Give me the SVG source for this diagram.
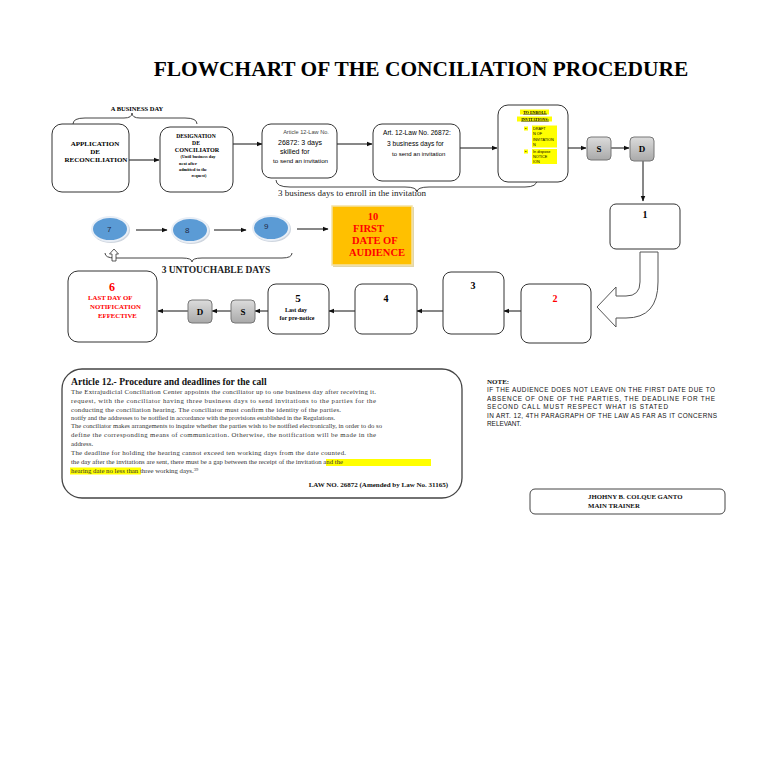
<svg xmlns="http://www.w3.org/2000/svg" width="768" height="762" viewBox="0 0 768 762">
<style>
.box{fill:#fff;stroke:#333;stroke-width:1}
.ser{font-family:"Liberation Serif","Times New Roman",serif}
.san{font-family:"Liberation Sans",Arial,sans-serif}
.b{font-weight:bold}
.red{fill:#FF0000}
.con{stroke:#111;stroke-width:1;fill:none;marker-end:url(#ah)}
.brace{stroke:#444;stroke-width:1;fill:none}
.btn{fill:url(#gg);stroke:#777;stroke-width:1}
.circ{fill:#5B9BD5;stroke:#e8eef6;stroke-width:2}
.body{font-family:"Liberation Serif","Times New Roman",serif;font-size:6.8px;fill:#333}
.note{font-family:"Liberation Sans",Arial,sans-serif;font-size:6.4px;fill:#111}
.hl{fill:#FFFF00}
</style>
<defs>
<marker id="ah" viewBox="0 0 10 10" refX="9" refY="5" markerWidth="6" markerHeight="6" orient="auto" markerUnits="userSpaceOnUse">
<path d="M0,1 L10,5 L0,9 Z" fill="#111"/>
</marker>
<linearGradient id="gg" x1="0" y1="0" x2="0" y2="1">
<stop offset="0" stop-color="#dcdcdc"/>
<stop offset="1" stop-color="#a9a9a9"/>
</linearGradient>
</defs>
<rect width="768" height="762" fill="#fff"/>
<text class="ser b" x="421" y="76" font-size="21.4" text-anchor="middle" fill="#000">FLOWCHART OF THE CONCILIATION PROCEDURE</text>

<!-- braces and annotations -->
<g id="annotations">
<path class="brace" d="M73,124 Q73,118 85,118 L124,118 Q132,118 132,113 Q132,118 140,118 L185,118 Q197,118 197,124"/>
<text class="ser b" x="137" y="111" font-size="6.5" text-anchor="middle">A BUSINESS DAY</text>
<path class="brace" d="M276,180 Q276,187 290,187 L405,187 Q417,187 417,192 Q417,187 429,187 L525,187 Q537,187 537,180"/>
<text class="ser" x="278" y="196" font-size="8" textLength="148" lengthAdjust="spacingAndGlyphs" fill="#222">3 business days to enroll in the invitation</text>
<path class="brace" d="M105,253 Q105,258 115,258 L182,258 Q192,258 192,262 Q192,258 202,258 L282,258 Q292,258 292,253"/>
<polygon points="114,249 118.5,254 116,254 116,261 112,261 112,254 109.5,254" fill="#fff" stroke="#333" stroke-width="0.8"/>
<text class="ser b" x="216" y="273" font-size="9.5" text-anchor="middle" fill="#222">3 UNTOUCHABLE DAYS</text>
</g>

<!-- connectors -->
<g id="connectors">
<line class="con" x1="129" y1="160" x2="159" y2="160"/>
<line class="con" x1="233" y1="144" x2="262" y2="144"/>
<line class="con" x1="337" y1="144" x2="372" y2="144"/>
<line class="con" x1="460" y1="148" x2="497" y2="148"/>
<line class="con" x1="568" y1="148" x2="586" y2="148"/>
<line class="con" x1="611" y1="148" x2="629" y2="148"/>
<line class="con" x1="643" y1="161" x2="643" y2="201"/>
<path d="M640,252 L640,282 Q640,296 626,296 L616,296 L616,287 L597,307 L616,327 L616,318 L626,318 Q658,318 658,282 L658,252 Z" fill="#fff" stroke="#555" stroke-width="1"/>
<line class="con" x1="521" y1="311" x2="504" y2="311"/>
<line class="con" x1="443" y1="311" x2="417" y2="311"/>
<line class="con" x1="355" y1="311" x2="329" y2="311"/>
<line class="con" x1="268" y1="311" x2="255" y2="311"/>
<line class="con" x1="231" y1="311" x2="212" y2="311"/>
<line class="con" x1="188" y1="311" x2="158" y2="311"/>
<line class="con" x1="136" y1="230" x2="167" y2="230"/>
<line class="con" x1="214" y1="230" x2="246" y2="230"/>
<line class="con" x1="297" y1="229" x2="328" y2="229"/>
</g>

<g id="n-application">
<rect class="box" x="52" y="124" width="77" height="68" rx="10"/>
<text class="ser b" x="95" y="146" font-size="7" text-anchor="middle">APPLICATION</text>
<text class="ser b" x="95" y="154" font-size="7" text-anchor="middle">DE</text>
<text class="ser b" x="96" y="162" font-size="7" text-anchor="middle">RECONCILIATION</text>
</g>

<g id="n-designation">
<rect class="box" x="160" y="127" width="73" height="65" rx="10"/>
<text class="ser b" x="196" y="138" font-size="5.6" text-anchor="middle">DESIGNATION</text>
<text class="ser b" x="196" y="145" font-size="5.6" text-anchor="middle">DE</text>
<text class="ser b" x="197" y="152" font-size="6.2" text-anchor="middle">CONCILIATOR</text>
<text class="ser b" x="198" y="158" font-size="4.3" text-anchor="middle">(Until business day</text>
<text class="ser b" x="188" y="164.5" font-size="4.3" text-anchor="middle">next after</text>
<text class="ser b" x="193" y="170.5" font-size="4.3" text-anchor="middle">admitted to the</text>
<text class="ser b" x="199" y="176.5" font-size="4.3" text-anchor="middle">request)</text>
</g>

<g id="n-article12a">
<rect class="box" x="262" y="124" width="75" height="54" rx="9"/>
<text class="san" x="306" y="134" font-size="5.6" text-anchor="middle" fill="#444">Article 12-Law No.</text>
<text class="san" x="278" y="145" font-size="7">26872: 3 days</text>
<text class="san" x="280" y="154" font-size="7">skilled for</text>
<text class="san" x="273" y="163" font-size="6.2">to send an invitation</text>
</g>

<g id="n-article12b">
<rect class="box" x="373" y="124" width="87" height="57" rx="9"/>
<text class="san" x="383" y="135" font-size="6.6">Art. 12-Law No. 26872:</text>
<text class="san" x="387" y="146" font-size="6.6">3 business days for</text>
<text class="san" x="392" y="156" font-size="6">to send an invitation</text>
</g>

<g id="n-enroll">
<rect class="box" x="498" y="105" width="70" height="77" rx="10"/>
<rect class="hl" x="520" y="109.5" width="29" height="5"/>
<rect class="hl" x="517" y="116.5" width="35" height="5"/>
<text class="ser b" x="535" y="113.5" font-size="4" text-anchor="middle" text-decoration="underline">TO ENROLL</text>
<text class="ser b" x="535" y="120.5" font-size="4" text-anchor="middle" text-decoration="underline">INVITATIONS:</text>
<rect class="hl" x="532" y="125.5" width="25" height="22"/>
<rect class="hl" x="524" y="126.5" width="4" height="4"/>
<text class="san" x="525" y="130" font-size="4">•</text>
<text class="san" x="533" y="129.5" font-size="3.8">DRAFT</text>
<text class="san" x="533" y="135" font-size="3.8">N OF</text>
<text class="san" x="533" y="140.5" font-size="3.8">INVITATION</text>
<text class="san" x="533" y="146" font-size="3.8">N</text>
<rect class="hl" x="532" y="149" width="25" height="15"/>
<rect class="hl" x="524" y="149.5" width="4" height="4"/>
<text class="san" x="525" y="153" font-size="4">•</text>
<text class="san" x="533" y="152.5" font-size="3.8">In dispose</text>
<text class="san" x="533" y="157.5" font-size="3.8">NOTICE</text>
<text class="san" x="533" y="162.5" font-size="3.8">ION</text>
</g>

<g id="n-s1">
<rect class="btn" x="587" y="137" width="24" height="23" rx="4"/>
<text class="ser b" x="599" y="152" font-size="9" text-anchor="middle">S</text>
</g>
<g id="n-d1">
<rect class="btn" x="630" y="137" width="24" height="24" rx="4"/>
<text class="ser b" x="642" y="152" font-size="9" text-anchor="middle">D</text>
</g>

<g id="n-1">
<rect class="box" x="610" y="204" width="70" height="45" rx="6"/>
<text class="ser b" x="645" y="218" font-size="10" text-anchor="middle">1</text>
</g>

<g id="n-2">
<rect class="box" x="521" y="284" width="70" height="59" rx="8"/>
<text class="ser b red" x="555" y="302" font-size="10" text-anchor="middle">2</text>
</g>
<g id="n-3">
<rect class="box" x="443" y="272" width="61" height="62" rx="8"/>
<text class="ser b" x="473" y="289" font-size="10" text-anchor="middle">3</text>
</g>
<g id="n-4">
<rect class="box" x="355" y="284" width="62" height="50" rx="7"/>
<text class="ser b" x="386" y="302" font-size="10" text-anchor="middle">4</text>
</g>
<g id="n-5">
<rect class="box" x="268" y="284" width="61" height="50" rx="8"/>
<text class="ser b" x="298" y="302" font-size="11" text-anchor="middle">5</text>
<text class="ser b" x="296" y="312" font-size="6" text-anchor="middle">Last day</text>
<text class="ser b" x="297" y="320" font-size="6" text-anchor="middle">for pre-notice</text>
</g>
<g id="n-s2">
<rect class="btn" x="231" y="300" width="24" height="23" rx="4"/>
<text class="ser b" x="243" y="315" font-size="9" text-anchor="middle">S</text>
</g>
<g id="n-d2">
<rect class="btn" x="188" y="300" width="24" height="23" rx="4"/>
<text class="ser b" x="200" y="315" font-size="9" text-anchor="middle">D</text>
</g>
<g id="n-6">
<rect class="box" x="68" y="271" width="89" height="71" rx="10"/>
<text class="ser b red" x="112" y="291" font-size="12" text-anchor="middle">6</text>
<text class="ser b red" x="88" y="300" font-size="6.8">LAST DAY OF</text>
<text class="ser b red" x="90" y="309" font-size="6.8">NOTIFICATION</text>
<text class="ser b red" x="98" y="318" font-size="6.8">EFFECTIVE</text>
</g>

<g id="n-7">
<ellipse cx="111" cy="230" rx="19" ry="13" fill="#cfd6df"/>
<ellipse class="circ" cx="110" cy="229" rx="18" ry="12"/>
<text class="san" x="107" y="232" font-size="8" fill="#1f2a44">7</text>
</g>
<g id="n-8">
<ellipse cx="191" cy="231" rx="19" ry="13" fill="#cfd6df"/>
<ellipse class="circ" cx="190" cy="230" rx="18" ry="12"/>
<text class="san" x="185" y="233" font-size="8" fill="#1f2a44">8</text>
</g>
<g id="n-9">
<ellipse cx="272" cy="229" rx="19" ry="13" fill="#cfd6df"/>
<ellipse class="circ" cx="271" cy="228" rx="18" ry="12"/>
<text class="san" x="264" y="229" font-size="8" fill="#1f2a44">9</text>
</g>
<g id="n-10">
<rect x="333" y="207" width="81" height="60" fill="#e3d6a8"/>
<rect x="332" y="206" width="80" height="59" fill="#FFC000" stroke="#f3e2a6" stroke-width="1.5"/>
<text class="ser b red" x="373" y="220" font-size="10.5" text-anchor="middle">10</text>
<text class="ser b red" x="353" y="232" font-size="10.5">FIRST</text>
<text class="ser b red" x="352" y="244" font-size="10.5">DATE OF</text>
<text class="ser b red" x="349" y="256" font-size="10.5">AUDIENCE</text>
</g>

<g id="n-article-text">
<rect x="62" y="369" width="400" height="129" rx="20" fill="#fff" stroke="#444" stroke-width="1.3"/>
<text class="ser b" x="71" y="385" font-size="9.6" fill="#111">Article 12.- Procedure and deadlines for the call</text>
<text class="body" x="71" y="394" textLength="305" lengthAdjust="spacing">The Extrajudicial Conciliation Center appoints the conciliator up to one business day after receiving it.</text>
<text class="body" x="71" y="403" textLength="305" lengthAdjust="spacing">request, with the conciliator having three business days to send invitations to the parties for the</text>
<text class="body" x="71" y="412" textLength="270" lengthAdjust="spacing">conducting the conciliation hearing. The conciliator must confirm the identity of the parties.</text>
<text class="body" x="71" y="419.5" font-size="5" textLength="264" lengthAdjust="spacingAndGlyphs">notify and the addresses to be notified in accordance with the provisions established in the Regulations.</text>
<text class="body" x="71" y="428" font-size="6" textLength="311" lengthAdjust="spacingAndGlyphs">The conciliator makes arrangements to inquire whether the parties wish to be notified electronically, in order to do so</text>
<text class="body" x="71" y="437" textLength="305" lengthAdjust="spacing">define the corresponding means of communication. Otherwise, the notification will be made in the</text>
<text class="body" x="71" y="446">address.</text>
<text class="body" x="71" y="455" textLength="275" lengthAdjust="spacing">The deadline for holding the hearing cannot exceed ten working days from the date counted.</text>
<rect class="hl" x="326" y="459" width="105" height="7"/>
<text class="body" x="71" y="464" font-size="6.2" textLength="272" lengthAdjust="spacingAndGlyphs">the day after the invitations are sent, there must be a gap between the receipt of the invitation and the</text>
<rect class="hl" x="70" y="467.5" width="71" height="7"/>
<text class="body" x="71" y="473">hearing date no less than three working days.<tspan font-size="4.5" dy="-2.5">39</tspan></text>
<text class="ser b" x="448" y="487" font-size="7" text-anchor="end" fill="#111">LAW NO. 26872 (Amended by Law No. 31165)</text>
</g>

<g id="n-note">
<text class="ser b" x="487" y="384" font-size="7" fill="#111">NOTE:</text>
<text class="note" x="487" y="392" textLength="228" lengthAdjust="spacing">IF THE AUDIENCE DOES NOT LEAVE ON THE FIRST DATE DUE TO</text>
<text class="note" x="487" y="400.5" textLength="228" lengthAdjust="spacing">ABSENCE OF ONE OF THE PARTIES, THE DEADLINE FOR THE</text>
<text class="note" x="487" y="409" textLength="181" lengthAdjust="spacing">SECOND CALL MUST RESPECT WHAT IS STATED</text>
<text class="note" x="487" y="417.5" textLength="230" lengthAdjust="spacing">IN ART. 12, 4TH PARAGRAPH OF THE LAW AS FAR AS IT CONCERNS</text>
<text class="note" x="487" y="426">RELEVANT.</text>
</g>

<g id="n-signature">
<rect x="530" y="489" width="195" height="25" rx="5" fill="#fff" stroke="#444" stroke-width="1"/>
<text class="ser b" x="588" y="499" font-size="6.8" fill="#111">JHOHNY B. COLQUE GANTO</text>
<text class="ser b" x="588" y="508" font-size="6.8" fill="#111">MAIN TRAINER</text>
</g>
</svg>
